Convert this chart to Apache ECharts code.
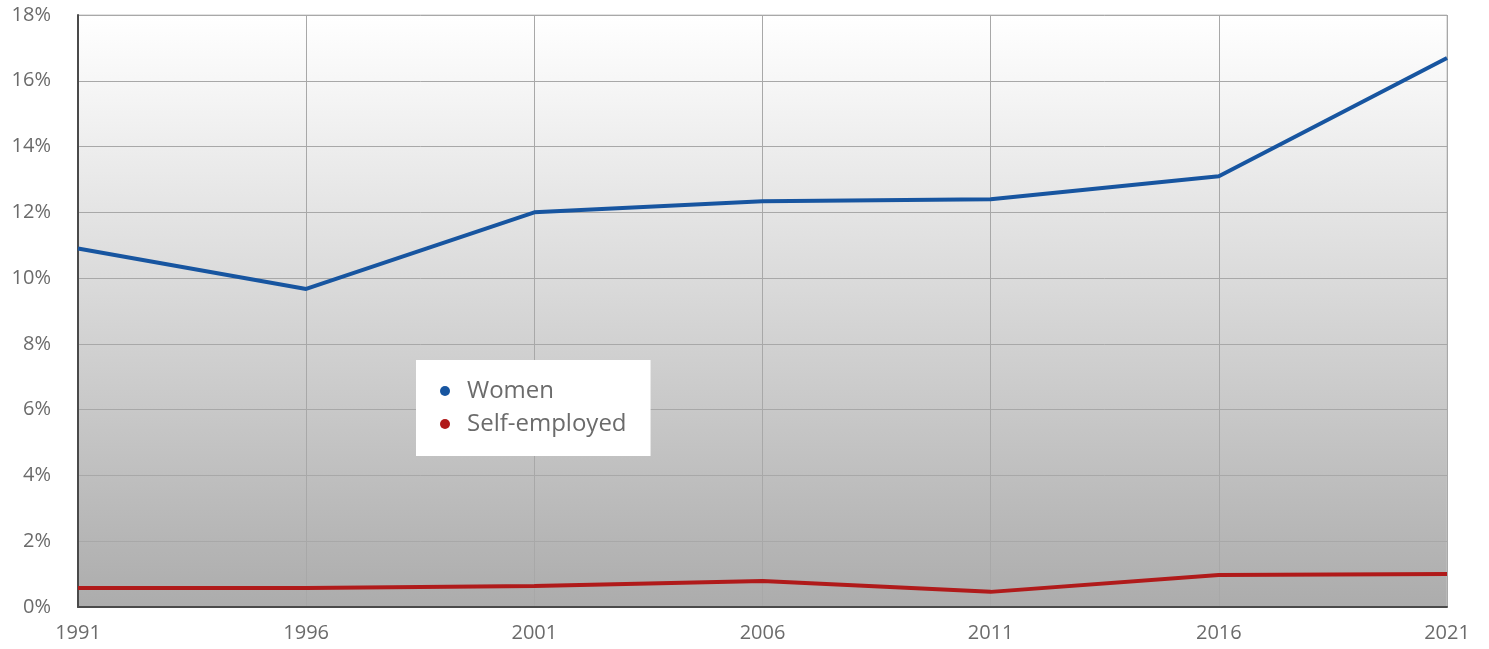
<!DOCTYPE html>
<html>
<head>
<meta charset="utf-8">
<script src="https://cdn.jsdelivr.net/npm/echarts@6/dist/echarts.min.js"></script>
<style>
  html, body { margin: 0; padding: 0; background: #fff; }
  #chart { width: 1489px; height: 649px; }
</style>
</head>
<body>
<div id="chart"></div>
<script>
const years = ['1991', '1996', '2001', '2006', '2011', '2016', '2021'];
const women = [10.9, 9.67, 12.0, 12.34, 12.4, 13.1, 16.69];
const selfEmployed = [0.58, 0.58, 0.64, 0.79, 0.46, 0.97, 1.0];

const chart = echarts.init(document.getElementById('chart'));
const textColor = '#6b6b6b';
const option = {
    animation: false,
    textStyle: { fontFamily: 'Open Sans' },
    grid: {
        left: 78,
        right: 42,
        top: 15,
        bottom: 42,
        show: true,
        borderColor: '#c4c4c4',
        borderWidth: 1,
        backgroundColor: new echarts.graphic.LinearGradient(0, 0, 0, 1, [
            { offset: 0, color: '#ffffff' },
            { offset: 0.12, color: '#f6f6f6' },
            { offset: 1, color: '#acacac' }
        ])
    },
    legend: {
        left: 416,
        top: 360,
        orient: 'vertical',
        backgroundColor: '#ffffff',
        padding: [19, 24, 20, 24],
        itemGap: 9,
        itemWidth: 10,
        itemHeight: 10,
        icon: 'circle',
        textStyle: { color: textColor, fontSize: 24, fontFamily: 'Open Sans', padding: [0, 0, 0, 12] },
        data: ['Women', 'Self-employed']
    },
    xAxis: {
        type: 'category',
        data: years,
        boundaryGap: false,
        axisTick: { show: false },
        axisLine: { lineStyle: { color: '#4a4a4a', width: 2 } },
        axisLabel: { color: textColor, fontSize: 20, margin: 16, fontFamily: 'Open Sans' },
        splitLine: { show: true, lineStyle: { color: '#a8a8a8', width: 1 } }
    },
    yAxis: {
        type: 'value',
        min: 0,
        max: 18,
        interval: 2,
        axisLine: { show: true, lineStyle: { color: '#4a4a4a', width: 2 } },
        axisTick: { show: false },
        axisLabel: { color: textColor, fontSize: 20, margin: 27, formatter: '{value}%', fontFamily: 'Open Sans' },
        splitLine: { lineStyle: { color: '#a8a8a8', width: 1 } }
    },
    series: [
        {
            name: 'Women',
            type: 'line',
            data: women,
            symbol: 'none',
            itemStyle: { color: '#1755a0' },
            lineStyle: { color: '#1755a0', width: 4 }
        },
        {
            name: 'Self-employed',
            type: 'line',
            data: selfEmployed,
            symbol: 'none',
            itemStyle: { color: '#b01a1a' },
            lineStyle: { color: '#b01a1a', width: 4 }
        }
    ]
};
chart.setOption(option);
</script>
</body>
</html>
